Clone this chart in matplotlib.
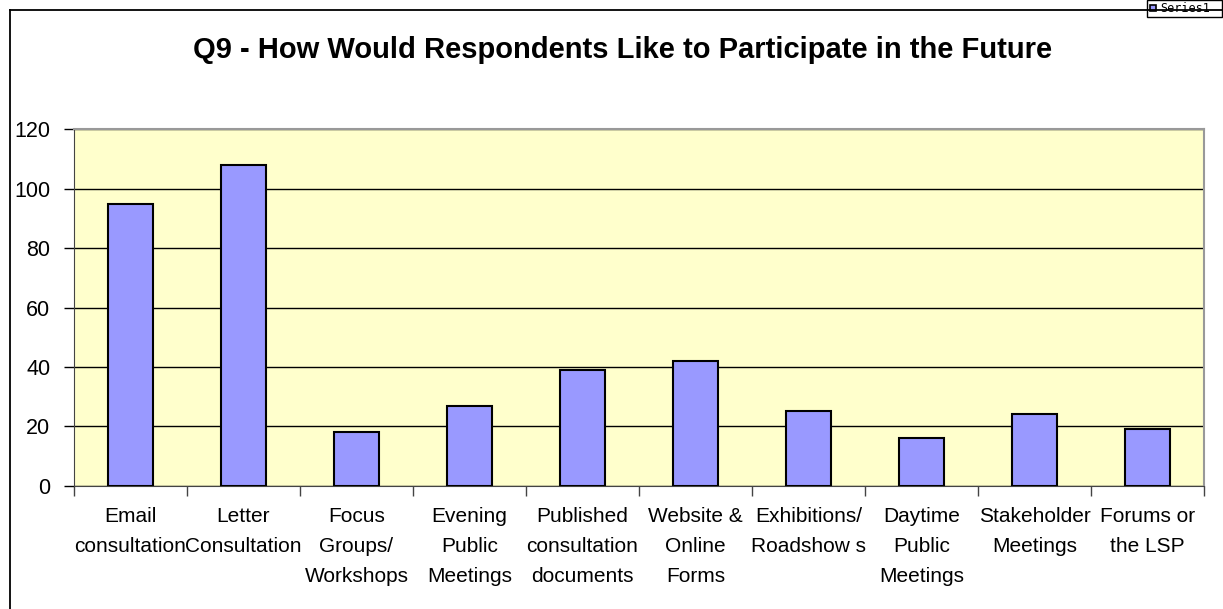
import numpy as np
import matplotlib
matplotlib.use("Agg")
import matplotlib.pyplot as plt
from matplotlib.patches import Rectangle
from matplotlib.lines import Line2D

# data
categories = ["Email\nconsultation", "Letter\nConsultation", "Focus\nGroups/\nWorkshops",
              "Evening\nPublic\nMeetings", "Published\nconsultation\ndocuments",
              "Website &\nOnline\nForms", "Exhibitions/\nRoadshow s", "Daytime\nPublic\nMeetings",
              "Stakeholder\nMeetings", "Forums or\nthe LSP"]
values = [95, 108, 18, 27, 39, 42, 25, 16, 24, 19]
yticks = [0, 20, 40, 60, 80, 100, 120]
title = "Q9 - How Would Respondents Like to Participate in the Future"
series_name = "Series1"

plt.rcParams['font.family'] = ['Liberation Sans', 'DejaVu Sans']

W, H = 1223, 609
fig = plt.figure(figsize=(W / 100, H / 100), dpi=100)

# outer chart frame
fig.add_artist(Line2D([9.5 / W, 9.5 / W], [0, 1 - 10 / H], color='black', lw=1.3))
fig.add_artist(Line2D([9.5 / W, 1], [1 - 10 / H, 1 - 10 / H], color='black', lw=1.3))

ax = fig.add_axes([74 / W, 1 - 485.7 / H, 1130 / W, 356.4 / H])
ax.set_facecolor('#ffffcc')
x = np.arange(len(values))
ax.bar(x, values, width=0.39, color='#9999ff', edgecolor='black', linewidth=1.5, zorder=3)

ax.set_xlim(-0.5, len(values) - 0.5)
ax.set_ylim(0, 120)
ax.set_yticks(yticks)
ax.yaxis.grid(True, color='black', linewidth=1, zorder=1)
ax.set_axisbelow(True)
ax.tick_params(axis='y', direction='out', length=7, width=1, labelsize=15.5, pad=10)

ax.set_xticks(x)
ax.set_xticklabels(categories, fontsize=15, linespacing=1.74)
ax.tick_params(axis='x', length=0, pad=15.5)
ax.set_xticks(np.arange(-0.5, len(values)), minor=True)
ax.tick_params(axis='x', which='minor', direction='out', length=7, width=1, color='#444444')

for side in ['top', 'right']:
    ax.spines[side].set_color('#999999')
    ax.spines[side].set_linewidth(1.5)
ax.spines['left'].set_color('#444444')
ax.spines['bottom'].set_color('#444444')

fig.text(622.5 / W, 1 - 50 / H, title, ha='center', va='center',
         fontsize=21, fontweight='bold')

# legend box at top right
fig.add_artist(Rectangle((1147 / W, 1 - 17 / H), 75 / W, 17 / H, transform=fig.transFigure,
                         facecolor='white', edgecolor='black', lw=1))
fig.add_artist(Rectangle((1150 / W, 1 - 11 / H), 6 / W, 6 / H, transform=fig.transFigure,
                         facecolor='#9999ff', edgecolor='black', lw=1.2))
fig.text(1160 / W, 1 - 8 / H, series_name, fontsize=8.5, family='DejaVu Sans Mono',
         va='center', ha='left')

fig.savefig("out.png", dpi=100)
